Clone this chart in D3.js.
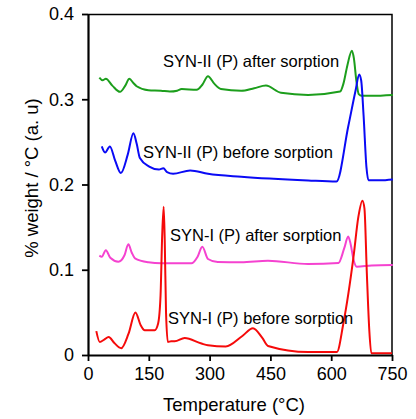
<!DOCTYPE html>
<html>
<head>
<meta charset="utf-8">
<script src="https://cdn.jsdelivr.net/npm/d3@7"></script>
<style>
  body { margin: 0; background: #fff; }
  text { font-family: "Liberation Sans", Arial, sans-serif; fill: #000; }
</style>
</head>
<body>
<div id="chart"></div>
<script>
// temperature (°C) / dTG values
const synIIAfterT = [28, 36, 44, 60, 79, 92, 102, 112, 120, 149, 180, 202, 220, 231, 268, 282, 296, 312, 328, 378, 410, 439, 476, 543, 622, 630, 640, 651, 656, 662, 668, 675, 700, 752];
const synIIAfterV = [0.3255, 0.3224, 0.324, 0.316, 0.3087, 0.316, 0.324, 0.319, 0.3153, 0.3106, 0.310, 0.309, 0.310, 0.312, 0.311, 0.317, 0.327, 0.318, 0.312, 0.310, 0.313, 0.316, 0.3075, 0.305, 0.309, 0.318, 0.340, 0.357, 0.348, 0.322, 0.306, 0.304, 0.304, 0.305];

const synIIBeforeT = [34, 42, 54, 67, 81, 98, 112, 120, 128, 151, 175, 186, 195, 210, 252, 296, 378, 543, 613, 642, 660, 669, 674, 680, 687, 692, 720, 752];
const synIIBeforeV = [0.2447, 0.2376, 0.2447, 0.228, 0.2134, 0.235, 0.260, 0.248, 0.231, 0.221, 0.2175, 0.219, 0.2145, 0.2126, 0.2165, 0.2126, 0.209, 0.2047, 0.2035, 0.268, 0.310, 0.329, 0.322, 0.280, 0.220, 0.205, 0.205, 0.206];

const synIAfterT = [28, 34, 44, 55, 75, 90, 99.5, 108, 116, 149, 181, 255, 270, 282, 296, 320, 378, 444, 543, 618, 632, 642, 648, 655, 663, 700, 752];
const synIAfterV = [0.1165, 0.1153, 0.123, 0.114, 0.1094, 0.117, 0.130, 0.120, 0.1134, 0.1087, 0.1075, 0.1075, 0.115, 0.127, 0.1126, 0.109, 0.1087, 0.1106, 0.1067, 0.108, 0.125, 0.139, 0.130, 0.112, 0.1035, 0.105, 0.1055];

const synIBeforeT = [20.5, 29, 40, 51, 65, 82, 100, 117, 130, 140, 164.5, 173, 179, 183, 186.7, 189.5, 192.5, 197, 205, 214, 238.5, 280, 296, 340, 380, 407, 430, 444, 543, 614, 630, 655, 667, 677, 682, 688, 694, 699, 750];
const synIBeforeV = [0.028, 0.0153, 0.018, 0.021, 0.014, 0.008, 0.025, 0.050, 0.035, 0.029, 0.029, 0.037, 0.070, 0.140, 0.174, 0.130, 0.050, 0.0153, 0.016, 0.016, 0.020, 0.0134, 0.0114, 0.010, 0.022, 0.0314, 0.020, 0.0106, 0.0035, 0.0035, 0.037, 0.115, 0.162, 0.181, 0.172, 0.095, 0.029, 0.002, 0.002];

const xTicks = [0, 150, 300, 450, 600, 750];
const yTicks = [0, 0.1, 0.2, 0.3, 0.4];

const series = [
  { name: 'SYN-II (P) after sorption', t: synIIAfterT, v: synIIAfterV, color: '#1c9e1c', lx: 163, ly: 67 },
  { name: 'SYN-II (P) before sorption', t: synIIBeforeT, v: synIIBeforeV, color: '#0a0af5', lx: 143, ly: 158 },
  { name: 'SYN-I (P) after sorption', t: synIAfterT, v: synIAfterV, color: '#f542d0', lx: 170, ly: 241 },
  { name: 'SYN-I (P) before sorption', t: synIBeforeT, v: synIBeforeV, color: '#f50a0a', lx: 168, ly: 324 }
];

const svgWidth = 416, svgHeight = 419;
const margin = { top: 14, right: 24, bottom: 64, left: 88 };
const width = svgWidth - margin.left - margin.right;
const height = svgHeight - margin.top - margin.bottom;

const svg = d3.select('#chart').append('svg')
  .attr('width', svgWidth)
  .attr('height', svgHeight)
  .append('g')
  .attr('transform', `translate(${margin.left},${margin.top})`);

const x = d3.scaleLinear().domain([0, 750]).range([0, width]);
const y = d3.scaleLinear().domain([0, 0.4]).range([height, 0]);

// frame (top and right)
svg.append('path')
  .attr('d', `M0,0.5H${width}V${height}`)
  .attr('fill', 'none')
  .attr('stroke', '#000')
  .attr('stroke-width', 1.5);

const line = d3.line()
  .x(d => x(d[0]))
  .y(d => y(d[1]))
  .curve(d3.curveMonotoneX);

series.forEach(s => {
  svg.append('path')
    .datum(s.t.map((t, i) => [t, s.v[i]]))
    .attr('fill', 'none')
    .attr('stroke', s.color)
    .attr('stroke-width', 2)
    .attr('stroke-linejoin', 'round')
    .attr('d', line);

  svg.append('text')
    .attr('x', s.lx - margin.left)
    .attr('y', s.ly - margin.top)
    .attr('font-size', 16.5)
    .text(s.name);
});

const xAxis = svg.append('g')
  .attr('transform', `translate(0,${height})`)
  .call(d3.axisBottom(x).tickValues(xTicks).tickSize(6).tickPadding(6).tickSizeOuter(0));

const yAxis = svg.append('g')
  .call(d3.axisLeft(y).tickValues(yTicks).tickSize(6).tickPadding(8).tickSizeOuter(0)
    .tickFormat(d => d === 0 ? '0' : d3.format('.1f')(d)));

[xAxis, yAxis].forEach(a => {
  a.select('.domain').attr('stroke-width', 2.2);
  a.selectAll('.tick line').attr('stroke-width', 1.8);
  a.selectAll('.tick text')
    .attr('font-size', 18)
    .attr('font-family', '"Liberation Sans", Arial, sans-serif');
});

svg.append('text')
  .attr('x', width / 2 - 6)
  .attr('y', height + 56)
  .attr('text-anchor', 'middle')
  .attr('font-size', 18.5)
  .text('Temperature (°C)');

svg.append('text')
  .attr('transform', `translate(${38 - margin.left},${178 - margin.top}) rotate(-90)`)
  .attr('text-anchor', 'middle')
  .attr('font-size', 18.5)
  .text('% weight / °C (a. u)');
</script>
</body>
</html>
